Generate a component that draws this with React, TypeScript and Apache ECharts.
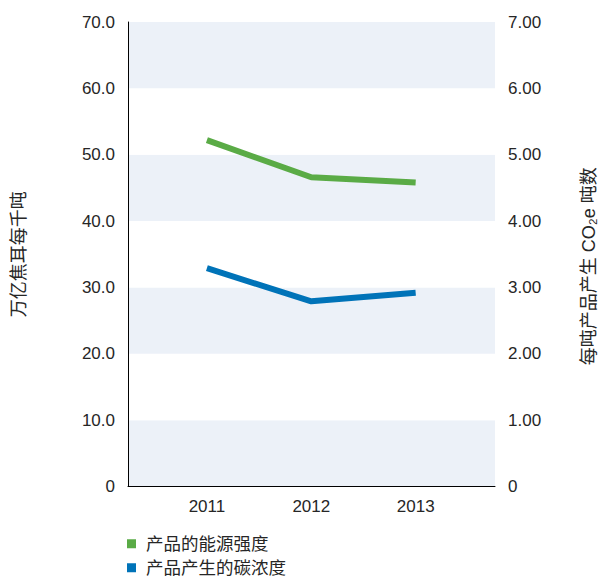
import React, { useEffect, useRef } from "react";
import * as echarts from "echarts";

const years = [2011, 2012, 2013];
const energyIntensity = [52.2, 46.6, 45.8];
const carbonIntensity = [3.29, 2.79, 2.92];
const seriesNames = ["产品的能源强度", "产品产生的碳浓度"];
const leftAxisName = "万亿焦耳每千吨";
const rightAxisName = "每吨产品产生 CO₂e 吨数";

const FONT = '"Liberation Sans", "Noto Sans CJK SC", sans-serif';
const TEXT = "#262626";

function legendFor(name: string, top: number) {
  return {
    orient: "vertical",
    left: 127,
    top,
    padding: 0,
    icon: "rect",
    itemWidth: 9,
    itemHeight: 9,
    itemGap: 10,
    textStyle: { fontSize: 17.5, color: TEXT, lineHeight: 15, fontFamily: FONT, padding: [0, 0, 0, 5] },
    data: [name],
  };
}

export default function App() {
  const ref = useRef<HTMLDivElement>(null);
  useEffect(() => {
    if (!ref.current) return;
    const chart = echarts.init(ref.current, undefined, { renderer: "svg" });
    chart.setOption({
      animation: false,
      textStyle: { fontFamily: FONT },
      grid: { left: 128, right: 108, top: 22, bottom: 90.5, containLabel: false },
      legend: [legendFor(seriesNames[0], 535), legendFor(seriesNames[1], 559)],
      xAxis: {
        type: "value",
        min: 2010.244,
        max: 2013.76,
        axisLine: { show: true, lineStyle: { color: "#000", width: 1 } },
        axisTick: { show: false },
        splitLine: { show: false },
        axisLabel: {
          customValues: years,
          formatter: (v: number) => String(v),
          fontSize: 17,
          color: TEXT,
          margin: 11,
          fontFamily: FONT,
        },
      },
      yAxis: [
        {
          type: "value",
          min: 0,
          max: 70,
          interval: 10,
          name: leftAxisName,
          nameLocation: "middle",
          nameGap: 100,
          nameTextStyle: { fontSize: 18, color: TEXT, fontFamily: FONT },
          axisLine: { show: true, lineStyle: { color: "#000", width: 1 } },
          axisTick: { show: false },
          splitLine: { show: false },
          splitArea: { show: true, areaStyle: { color: ["#ecf1f8", "#ffffff"] } },
          axisLabel: {
            fontSize: 17,
            color: TEXT,
            margin: 13,
            fontFamily: FONT,
            formatter: (v: number) => (v === 0 ? "0" : v.toFixed(1)),
          },
        },
        {
          type: "value",
          min: 0,
          max: 7,
          interval: 1,
          position: "right",
          name: rightAxisName,
          nameLocation: "middle",
          nameRotate: 90,
          nameGap: 85,
          nameTextStyle: { fontSize: 18, color: TEXT, fontFamily: FONT, padding: [0, 24, 0, 0] },
          axisLine: { show: false },
          axisTick: { show: false },
          splitLine: { show: false },
          axisLabel: {
            fontSize: 17,
            color: TEXT,
            margin: 13,
            fontFamily: FONT,
            formatter: (v: number) => (v === 0 ? "0" : v.toFixed(2)),
          },
        },
      ],
      series: [
        {
          name: seriesNames[0],
          type: "line",
          yAxisIndex: 0,
          showSymbol: false,
          symbol: "none",
          color: "#5aab46",
          lineStyle: { width: 6, color: "#5aab46", cap: "butt" },
          data: years.map((y, i) => [y, energyIntensity[i]]),
        },
        {
          name: seriesNames[1],
          type: "line",
          yAxisIndex: 1,
          showSymbol: false,
          symbol: "none",
          color: "#0073b8",
          lineStyle: { width: 6, color: "#0073b8", cap: "butt" },
          data: years.map((y, i) => [y, carbonIntensity[i]]),
        },
      ],
    });
    return () => chart.dispose();
  }, []);
  return (
    <div
      ref={ref}
      style={{ position: "fixed", left: 0, top: 0, width: 606, height: 577, background: "#fff" }}
    />
  );
}
